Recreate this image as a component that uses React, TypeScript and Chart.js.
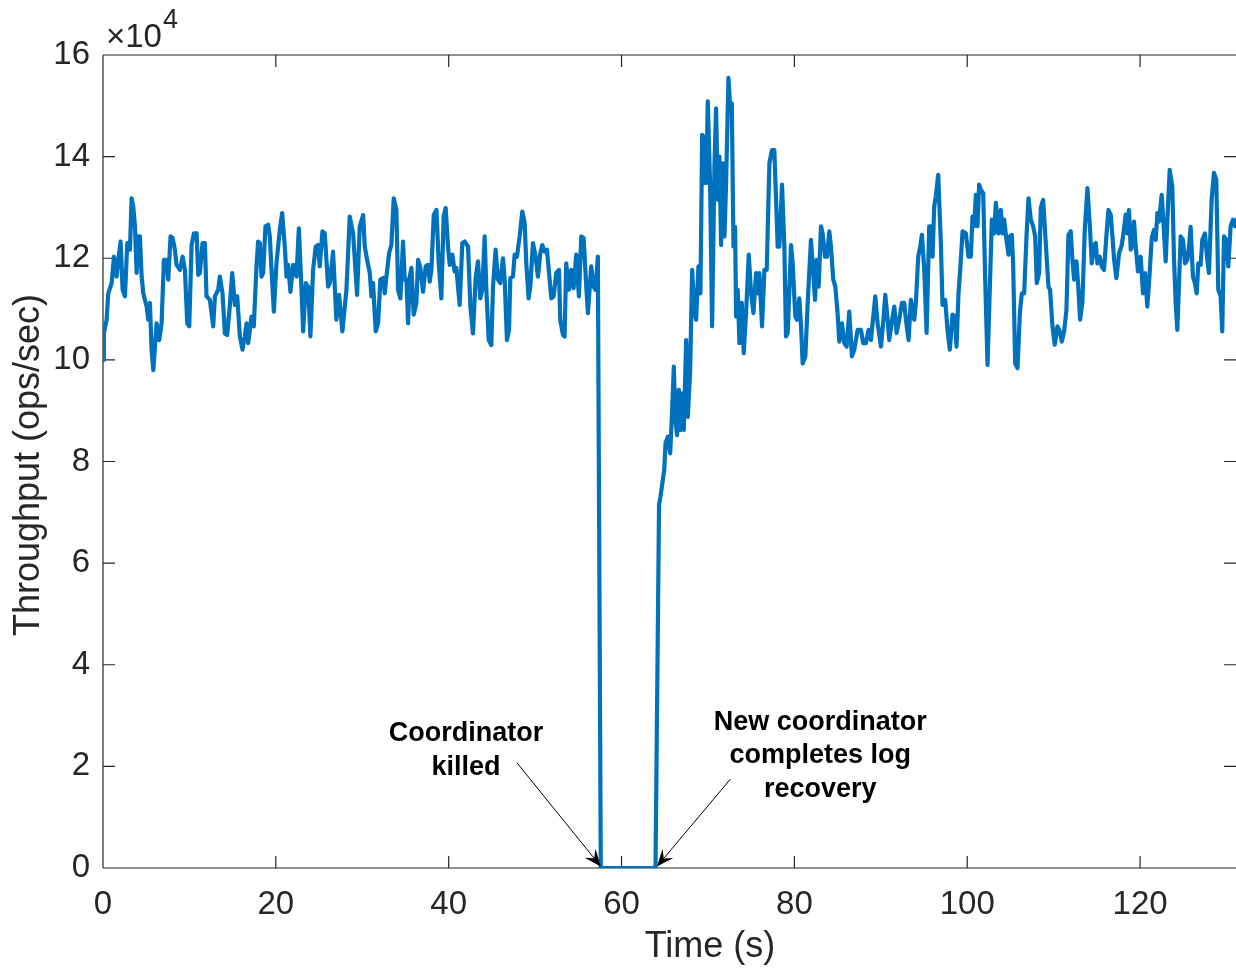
import React, { useEffect, useRef } from "react";
import { Chart, registerables } from "chart.js";

Chart.register(...registerables);

// Time in seconds
const TIME: number[] = [
  0, 0.1, 0.42, 0.61, 1.0, 1.27, 1.58, 1.77, 2.04, 2.27, 2.54, 2.81, 3.12, 3.31, 3.5, 3.7, 3.89, 4.08, 4.27, 4.47,
  4.66, 5.05, 5.24, 5.43, 5.62, 5.82, 6.2, 6.51, 6.78, 7.05, 7.36, 7.55, 7.82, 8.05, 8.32, 8.51, 8.9, 9.21, 9.48, 9.75,
  9.98, 10.25, 10.52, 10.83, 11.02, 11.21, 11.52, 11.79, 11.98, 12.37, 12.75, 12.95, 13.33, 13.52, 13.83, 14.1, 14.37, 14.68, 14.95, 15.26,
  15.53, 15.84, 16.14, 16.41, 16.61, 16.8, 17.18, 17.45, 17.76, 17.95, 18.15, 18.34, 18.53, 18.8, 19.11, 19.3, 19.5, 19.77, 20.07, 20.46,
  20.73, 21.04, 21.23, 21.42, 21.69, 22.0, 22.39, 22.66, 22.89, 23.16, 23.47, 23.74, 24.0, 24.31, 24.62, 24.89, 25.08, 25.39, 25.66, 26.05,
  26.24, 26.62, 27.01, 27.32, 27.7, 28.17, 28.55, 28.94, 29.4, 29.71,
  30.1, 30.29, 30.56, 30.87, 31.06, 31.25, 31.56, 31.83, 32.1, 32.41, 32.6, 32.8, 33.1, 33.37, 33.64, 33.95, 34.14, 34.41, 34.72, 34.91,
  35.11, 35.3, 35.49, 35.69, 35.95, 36.26, 36.46, 36.73, 37.03, 37.34, 37.61, 37.8, 38.0, 38.27, 38.58, 38.85, 39.15, 39.42, 39.65, 39.92,
  40.12, 40.43, 40.69, 40.89, 41.08, 41.27, 41.58, 41.85, 42.24, 42.51, 42.81, 43.12, 43.39, 43.66, 43.89, 44.16, 44.36, 44.63, 44.93, 45.13,
  45.43, 45.7, 45.97, 46.28, 46.48, 46.74, 46.98, 47.13, 47.44, 47.63, 47.9, 48.21, 48.52, 48.79, 48.98, 49.25, 49.44, 49.75, 50.06, 50.33,
  50.6, 50.83, 51.1, 51.37, 51.68, 51.87, 52.14, 52.45, 52.76, 52.91, 53.22, 53.41, 53.6, 53.91, 54.18, 54.45, 54.76, 55.07, 55.34, 55.61,
  55.92, 56.11, 56.49, 56.76, 56.99, 57.26,
  57.6, 63.93, 64.34, 64.5, 64.95, 65.09, 65.36,
  65.63, 65.86, 66.05, 66.24, 66.43, 66.63, 66.82, 67.01, 67.2, 67.48, 67.67, 67.94, 68.17, 68.44, 68.63, 68.9, 69.13, 69.33, 69.52, 69.71,
  69.8, 69.98, 70.25, 70.48, 70.75, 70.94, 71.14, 71.33, 71.52, 71.71, 71.91, 72.1, 72.37, 72.56, 72.76, 72.95, 73.14, 73.26, 73.45, 73.64,
  73.91, 74.14, 74.41, 74.72, 74.99, 75.26, 75.57, 75.76,
  75.95, 76.26, 76.53, 76.8, 77.11, 77.41, 77.68, 78.07, 78.26, 78.57, 78.84, 79.03, 79.23, 79.61, 79.8, 80.11, 80.3, 80.57, 80.77, 80.96,
  81.27, 81.54, 81.92, 82.19, 82.39, 82.58, 82.81, 83.08, 83.27, 83.54, 83.77, 84.04, 84.23, 84.5, 84.74, 85.0, 85.2, 85.5, 85.78, 86.05,
  86.35, 86.66, 86.93, 87.32, 87.7, 87.97, 88.28, 88.59, 88.86, 89.05, 89.36, 89.63, 90.02, 90.3, 90.52, 90.79, 90.98, 91.25, 91.56, 91.83,
  92.13, 92.44, 92.71, 92.91, 93.21, 93.48, 93.87, 94.06, 94.33, 94.56, 94.76, 95.03, 95.3, 95.6, 95.8, 95.99, 96.18, 96.37, 96.64, 96.95,
  97.14, 97.45, 97.72, 97.99, 98.3, 98.57, 98.76, 98.99, 99.19, 99.46, 99.84, 100.15, 100.42, 100.61, 100.8, 101.0, 101.19, 101.38, 101.57, 101.85,
  102.08, 102.35,
  102.85, 103.12, 103.31, 103.62, 103.89, 104.08, 104.27, 104.54, 104.78, 104.93, 105.16, 105.31, 105.55, 105.82, 106.09, 106.32, 106.59, 106.86, 107.09, 107.36,
  107.63, 107.86, 108.05, 108.32, 108.51, 108.78, 109.09, 109.4, 109.59, 109.86, 110.13, 110.44, 110.71, 110.94, 111.21, 111.48, 111.71, 111.98, 112.17, 112.37,
  112.64, 112.87, 113.06, 113.33, 113.6, 113.91, 114.18, 114.41, 114.68, 114.87, 115.06, 115.33, 115.56, 115.83, 116.1, 116.34, 116.61, 116.8, 117.0, 117.26,
  117.57, 117.84, 118.03, 118.34, 118.53, 118.72, 118.92, 119.11, 119.3, 119.5, 119.76, 120.07, 120.34, 120.57, 120.84, 121.11, 121.35, 121.62, 121.81, 122.0,
  122.19, 122.5, 122.69, 122.96, 123.23, 123.43, 123.73, 123.93, 124.12, 124.31, 124.51, 124.7, 124.97, 125.2, 125.47, 125.66, 125.85, 126.12, 126.35, 126.55,
  126.74, 127.01, 127.2, 127.51, 127.78, 127.97, 128.28, 128.55, 128.82, 129.05, 129.32, 129.51, 129.71, 129.98, 130.21, 130.48, 130.75, 130.98, 131.3,
];

// Throughput in units of 10^4 ops/sec
const THROUGHPUT: number[] = [
  10.0, 10.52, 10.79, 11.31, 11.51, 12.03, 11.64, 11.97, 12.33, 11.38, 11.25, 12.3, 12.17, 13.18, 13.02, 12.63, 11.71, 12.43, 12.43, 11.64,
  11.31, 11.05, 10.79, 11.12, 10.2, 9.8, 10.72, 10.39, 10.72, 11.97, 11.97, 11.58, 12.43, 12.4, 12.17, 11.87, 11.77, 12.03, 11.77, 10.72,
  10.66, 12.26, 12.49, 12.49, 11.67, 11.71, 12.3, 12.3, 11.25, 11.18, 10.66, 11.25, 11.38, 11.64, 11.31, 10.52, 10.49, 11.08, 11.71, 11.08,
  11.25, 10.46, 10.2, 10.46, 10.72, 10.33, 10.85, 10.66, 11.84, 12.33, 12.3, 11.64, 11.71, 12.63, 12.66, 12.43, 11.77, 10.95, 11.9, 12.56,
  12.89, 12.23, 11.64, 11.87, 11.34, 11.87, 11.64, 12.59, 11.71, 10.56, 11.51, 11.44, 10.46, 11.77, 12.23, 12.26, 11.84, 12.53, 12.49, 11.44,
  11.51, 12.13, 10.79, 11.28, 10.56, 11.38, 12.82, 12.49, 11.28, 12.63,
  12.85, 12.23, 11.97, 11.71, 11.25, 11.51, 10.56, 10.72, 11.58, 11.61, 11.31, 11.64, 12.1, 12.26, 13.18, 12.95, 11.38, 11.21, 12.33, 11.58,
  11.58, 10.72, 11.64, 11.81, 10.89, 11.12, 11.97, 11.81, 11.34, 11.84, 11.87, 11.54, 11.77, 12.85, 12.95, 11.9, 11.21, 12.82, 12.99, 12.23,
  11.87, 12.07, 11.74, 11.81, 11.44, 11.08, 12.3, 12.33, 12.23, 11.05, 10.52, 11.61, 11.94, 11.21, 11.38, 12.43, 11.38, 10.39, 10.29, 11.44,
  12.17, 11.58, 11.51, 12.0, 11.58, 10.39, 10.59, 11.61, 11.64, 12.07, 12.03, 12.43, 12.92, 12.69, 11.9, 11.21, 11.44, 12.3, 12.03, 11.64,
  12.1, 12.26, 12.13, 12.17, 11.58, 11.21, 11.25, 11.71, 11.77, 10.79, 10.49, 10.46, 11.9, 11.38, 11.77, 11.41, 12.07, 11.25, 12.43, 12.4,
  11.44, 10.92, 11.84, 11.44, 11.38, 12.03,
  0, 0, 7.15, 7.3, 7.85, 8.36, 8.49,
  8.16, 9.02, 9.87, 8.82, 8.52, 9.41, 8.62, 9.34, 8.62, 10.39, 8.88, 9.8, 11.77, 10.92, 10.79, 11.84, 11.31, 14.43, 13.48, 14.4,
  13.48, 15.09, 13.41, 10.66, 13.81, 14.95, 13.15, 14.0, 12.26, 13.87, 12.43, 13.48, 15.55, 14.99, 15.05, 12.23, 12.62, 10.85, 11.38, 10.33,
  11.12, 10.13, 10.92, 12.07, 11.31, 10.92, 11.71, 11.31,
  11.71, 10.66, 11.77, 11.77, 13.87, 14.13, 14.13, 12.23, 12.23, 13.45, 12.23, 10.46, 10.53, 12.26, 11.9, 10.85, 10.79, 11.21, 10.66, 9.93,
  10.07, 11.12, 12.36, 11.71, 11.18, 11.97, 11.44, 12.63, 12.49, 12.03, 12.03, 12.53, 12.23, 11.58, 11.44, 10.92, 10.36, 10.72, 10.33, 10.26,
  10.95, 10.07, 10.2, 10.59, 10.59, 10.33, 10.33, 10.59, 10.39, 10.72, 11.25, 10.72, 10.26, 10.79, 11.28, 10.79, 10.39, 10.72, 11.05, 10.53,
  10.79, 11.12, 11.12, 10.79, 10.39, 11.18, 10.79, 11.12, 12.03, 12.23, 12.46, 11.77, 10.53, 12.63, 12.63, 12.03, 13.02, 13.22, 13.64, 12.3,
  11.08, 11.18, 10.59, 10.2, 10.89, 10.85, 10.26, 11.31, 11.77, 12.53, 12.49, 12.03, 12.03, 12.82, 12.63, 13.25, 12.63, 13.45, 13.35, 13.28,
  11.58, 9.9,
  12.76, 12.49, 13.09, 12.49, 12.95, 12.49, 12.76, 12.36, 12.07, 12.43, 12.46, 11.9, 9.93, 9.84, 10.92, 11.31, 11.31, 12.43, 13.18, 12.76,
  12.63, 12.43, 11.51, 11.71, 12.99, 13.15, 12.3, 11.44, 11.38, 10.66, 10.3, 10.66, 10.56, 10.36, 10.56, 10.98, 12.46, 12.53, 11.97, 11.58,
  11.94, 11.38, 10.79, 11.15, 12.56, 13.38, 12.66, 11.9, 12.26, 12.3, 11.9, 12.03, 11.84, 11.77, 12.43, 12.95, 12.85, 12.43, 11.97, 11.61,
  12.1, 12.23, 12.43, 12.86, 12.49, 12.95, 12.17, 12.23, 12.72, 12.23, 11.74, 12.03, 11.31, 11.71, 11.05, 11.71, 12.4, 12.56, 12.36, 12.89,
  12.72, 13.25, 12.76, 11.94, 13.02, 13.74, 13.41, 11.97, 11.12, 10.59, 11.51, 12.43, 12.36, 11.9, 11.97, 12.23, 12.62, 11.64, 11.51, 11.31,
  11.9, 11.87, 12.36, 12.49, 11.97, 11.71, 13.15, 13.68, 13.54, 11.38, 11.25, 10.56, 12.43, 12.36, 11.84, 12.63, 12.76, 12.63, 12.8,
];

const X_TICKS = [0, 20, 40, 60, 80, 100, 120];
const Y_TICKS = [0, 2, 4, 6, 8, 10, 12, 14, 16];
const X_MIN = 0;
const X_MAX = 131.1;
const Y_MIN = 0;
const Y_MAX = 16;
const X_TITLE = "Time (s)";
const Y_TITLE = "Throughput (ops/sec)";
const EXP_BASE = "\u00D710";
const EXP_POWER = "4";

const NOTE_KILLED = ["Coordinator", "killed"];
const NOTE_KILLED_AT = [42.0, 2.64]; // [time, throughput] of first text line centre
const NOTE_KILLED_ARROW = [47.9, 2.07, 57.6, 0.03]; // from (t, v) to (t, v)
const NOTE_RECOVERY = ["New coordinator", "completes log", "recovery"];
const NOTE_RECOVERY_AT = [83.0, 2.87];
const NOTE_RECOVERY_ARROW = [72.6, 1.75, 64.1, 0.03];

const FONT = "'Liberation Sans', Arial, Helvetica, sans-serif";
const AXIS_COLOR = "#262626";
const LINE_COLOR = "#0072BD";

function drawArrow(ctx: CanvasRenderingContext2D, x1: number, y1: number, x2: number, y2: number) {
  const dx = x2 - x1;
  const dy = y2 - y1;
  const len = Math.hypot(dx, dy);
  const ux = dx / len;
  const uy = dy / len;
  const nx = -uy;
  const ny = ux;
  const L = 17;
  const W = 7;
  ctx.beginPath();
  ctx.moveTo(x1, y1);
  ctx.lineTo(x2 - ux * L * 0.6, y2 - uy * L * 0.6);
  ctx.stroke();
  ctx.beginPath();
  ctx.moveTo(x2, y2);
  ctx.lineTo(x2 - ux * L + nx * W, y2 - uy * L + ny * W);
  ctx.lineTo(x2 - ux * L * 0.62, y2 - uy * L * 0.62);
  ctx.lineTo(x2 - ux * L - nx * W, y2 - uy * L - ny * W);
  ctx.closePath();
  ctx.fill();
}

const framePlugin = {
  id: "matlabFrame",
  beforeDatasetsDraw(chart: any) {
    const { ctx, chartArea: a, scales } = chart;
    const xs = scales.x;
    const ys = scales.y;
    ctx.save();
    ctx.strokeStyle = AXIS_COLOR;
    ctx.lineWidth = 1.2;
    ctx.beginPath();
    ctx.moveTo(a.left, a.top);
    ctx.lineTo(a.left, a.bottom);
    ctx.moveTo(a.left, a.bottom);
    ctx.lineTo(a.right, a.bottom);
    ctx.moveTo(a.left, a.top);
    ctx.lineTo(a.right, a.top);
    const TL = 12;
    X_TICKS.forEach((v) => {
      const px = xs.getPixelForValue(v);
      ctx.moveTo(px, a.bottom);
      ctx.lineTo(px, a.bottom - TL);
      ctx.moveTo(px, a.top);
      ctx.lineTo(px, a.top + TL);
    });
    Y_TICKS.forEach((v) => {
      const py = ys.getPixelForValue(v);
      ctx.moveTo(a.left, py);
      ctx.lineTo(a.left + TL, py);
      ctx.moveTo(a.right, py);
      ctx.lineTo(a.right - TL, py);
    });
    ctx.stroke();
    ctx.restore();
  },
  afterDraw(chart: any) {
    const { ctx, chartArea: a, scales } = chart;
    const xs = scales.x;
    const ys = scales.y;
    ctx.save();
    // exponent label
    ctx.fillStyle = AXIS_COLOR;
    ctx.textBaseline = "alphabetic";
    ctx.textAlign = "left";
    ctx.font = `33px ${FONT}`;
    ctx.fillText(EXP_BASE, a.left + 3, a.top - 8);
    const w = ctx.measureText(EXP_BASE).width;
    ctx.font = `27px ${FONT}`;
    ctx.fillText(EXP_POWER, a.left + 3 + w + 1, a.top - 27);

    // axis titles
    ctx.font = `36px ${FONT}`;
    ctx.textAlign = "center";
    ctx.textBaseline = "middle";
    ctx.fillText(X_TITLE, 710, 947);
    ctx.save();
    ctx.translate(29, 465);
    ctx.rotate(-Math.PI / 2);
    ctx.fillText(Y_TITLE, 0, 0);
    ctx.restore();

    // annotations
    ctx.fillStyle = "#000";
    ctx.strokeStyle = "#000";
    ctx.lineWidth = 1;
    ctx.font = `bold 27px ${FONT}`;
    const drawNote = (lines: string[], at: number[], arrow: number[]) => {
      const cx = xs.getPixelForValue(at[0]);
      const cy = ys.getPixelForValue(at[1]);
      lines.forEach((s, i) => ctx.fillText(s, cx, cy + i * 33.5));
      drawArrow(
        ctx,
        xs.getPixelForValue(arrow[0]),
        ys.getPixelForValue(arrow[1]),
        xs.getPixelForValue(arrow[2]),
        ys.getPixelForValue(arrow[3])
      );
    };
    drawNote(NOTE_KILLED, NOTE_KILLED_AT, NOTE_KILLED_ARROW);
    drawNote(NOTE_RECOVERY, NOTE_RECOVERY_AT, NOTE_RECOVERY_ARROW);
    ctx.restore();
  },
};

export default function App() {
  const canvasRef = useRef<HTMLCanvasElement | null>(null);

  useEffect(() => {
    const canvas = canvasRef.current;
    if (!canvas) return;
    const points = TIME.map((t, i) => ({ x: t, y: THROUGHPUT[i] }));
    const chart = new Chart(canvas, {
      type: "line",
      data: {
        datasets: [
          {
            data: points,
            borderColor: LINE_COLOR,
            backgroundColor: LINE_COLOR,
            borderWidth: 4.2,
            pointRadius: 0,
            tension: 0,
            borderJoinStyle: "round",
            borderCapStyle: "round",
            fill: false,
          },
        ],
      },
      options: {
        animation: false,
        responsive: false,
        maintainAspectRatio: false,
        events: [],
        layout: { padding: { top: 55, left: 0, right: 0, bottom: 0 } },
        plugins: { legend: { display: false }, tooltip: { enabled: false }, title: { display: false } },
        scales: {
          x: {
            type: "linear",
            min: X_MIN,
            max: X_MAX,
            border: { display: false },
            grid: { display: false, drawTicks: false },
            ticks: {
              color: AXIS_COLOR,
              font: { family: FONT, size: 33 },
              padding: 17,
              maxRotation: 0,
              autoSkip: false,
            },
            afterBuildTicks: (s: any) => {
              s.ticks = X_TICKS.map((value) => ({ value }));
            },
            afterFit: (s: any) => {
              s.height = 104;
            },
          },
          y: {
            type: "linear",
            min: Y_MIN,
            max: Y_MAX,
            border: { display: false },
            grid: { display: false, drawTicks: false },
            ticks: {
              color: AXIS_COLOR,
              font: { family: FONT, size: 33 },
              padding: 13,
              autoSkip: false,
            },
            afterBuildTicks: (s: any) => {
              s.ticks = Y_TICKS.map((value) => ({ value }));
            },
            afterFit: (s: any) => {
              s.width = 103;
            },
          },
        },
      },
      plugins: [framePlugin],
    });
    return () => chart.destroy();
  }, []);

  return (
    <div style={{ position: "fixed", left: 0, top: 0, width: 1236, height: 972, background: "#fff", overflow: "hidden" }}>
      <canvas ref={canvasRef} width={1236} height={972} style={{ display: "block" }} />
    </div>
  );
}
